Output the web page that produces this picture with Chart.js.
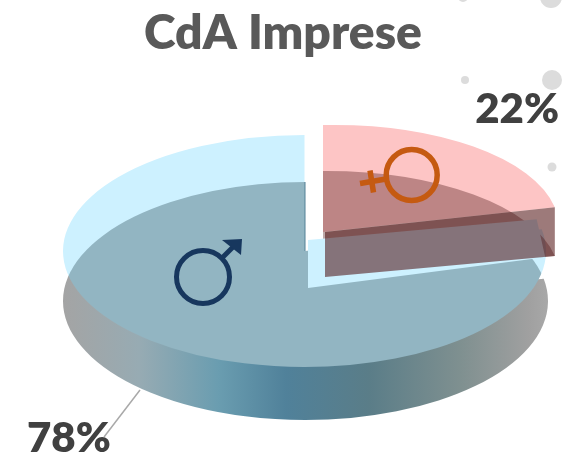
<!DOCTYPE html>
<html>
<head>
<meta charset="utf-8">
<style>html,body{margin:0;padding:0;background:#fff}canvas{display:block}</style>
<script src="https://cdn.jsdelivr.net/npm/chart.js@4/dist/chart.umd.min.js"></script>
</head>
<body>
<canvas id="c" width="566" height="452"></canvas>
<script>
const categories = ['Donne', 'Uomini'];
const shares = [22, 78];
const chartTitle = 'CdA Imprese';

// projections of the library's circular slices onto the tilted disc
const blueTop  = {x: 304.5, y: 251, rx: 241.5, ry: 116, shear: 0};
const blueBase = {x: 305.5, y: 301, rx: 242.5, ry: 119, shear: 0};
const pinkTop  = {x: 323,   y: 232, rx: 236,   ry: 107, shear: -0.02};
const pinkBase = {x: 323,   y: 277, rx: 236,   ry: 106, shear: -0.005};

function applyProj(ctx, arc, p) {
  const k = p.rx / arc.outerRadius, m = p.ry / arc.outerRadius;
  ctx.transform(k, p.shear * k, 0, m, p.x - k * arc.x, p.y - m * arc.y - p.shear * k * arc.x);
}
function project(arc, p, angle) {
  const dx = Math.cos(angle), dy = Math.sin(angle);
  return {x: p.x + p.rx * dx, y: p.y + p.ry * dy + p.shear * p.rx * dx};
}
function drawArc(ctx, arc, p, fill, op) {
  const saved = arc.options;
  arc.options = {offset: 0, spacing: 0, circular: true, borderAlign: 'center', borderWidth: 0,
    borderRadius: 0, borderColor: 'transparent', backgroundColor: fill};
  ctx.save();
  if (op) ctx.globalCompositeOperation = op;
  applyProj(ctx, arc, p);
  arc.draw(ctx);
  ctx.restore();
  arc.options = saved;
}
function poly(ctx, pts, fill) {
  ctx.beginPath();
  pts.forEach((q, i) => i ? ctx.lineTo(q.x, q.y) : ctx.moveTo(q.x, q.y));
  ctx.closePath();
  ctx.fillStyle = fill;
  ctx.fill();
}

const pie3d = {
  id: 'pie3d',
  beforeDatasetsDraw(chart) {
    const ctx = chart.ctx;
    const [pink, blue] = chart.getDatasetMeta(0).data;

    // blue slice: top face, the part seen through it, then the side below
    drawArc(ctx, blue, blueTop, '#cdf1ff');
    ctx.save();
    ctx.globalCompositeOperation = 'source-atop';
    applyProj(ctx, blue, blueBase);
    ctx.beginPath();
    ctx.arc(blue.x, blue.y, blue.outerRadius, 0, Math.PI * 2);
    ctx.fillStyle = '#92b5c2';
    ctx.fill();
    ctx.restore();

    const g = ctx.createLinearGradient(blue.x - blue.outerRadius, 0, blue.x + blue.outerRadius, 0);
    [[0, '#a4a4a4'], [.157, '#97abb3'], [.32, '#6a9db0'], [.46, '#50819a'],
     [.63, '#5a7d88'], [.82, '#7f9090'], [.96, '#a0a0a0'], [1, '#a8a8a8']]
      .forEach(s => g.addColorStop(s[0], s[1]));
    drawArc(ctx, blue, blueBase, g, 'destination-over');

    // pink slice
    drawArc(ctx, pink, pinkTop, '#fdc5c5');
    drawArc(ctx, pink, pinkBase, 'rgba(80,24,24,.37)');

    // inner cut face of the blue slice
    const bc = {x: blueTop.x, y: blueTop.y};
    const be = project(pink, blueTop, pink.endAngle);
    poly(ctx, [
      {x: bc.x + 3.5, y: bc.y - 11}, {x: be.x - 5, y: be.y - 10},
      {x: be.x + 3.5, y: be.y + 28}, {x: bc.x + 3.5, y: bc.y + 37}
    ], '#cdf1ff');

    // inner cut face of the pink slice
    const tc = {x: pinkTop.x + 2, y: pinkTop.y};
    const te = project(pink, pinkTop, pink.endAngle);
    const de = project(pink, pinkBase, pink.endAngle);
    const dc = {x: pinkBase.x + 2, y: pinkBase.y};
    poly(ctx, [tc, te, de, dc], 'rgba(69,3,3,.53)');
    return false;
  },
  afterDraw(chart) {
    const ctx = chart.ctx;
    ctx.save();
    // leader line
    ctx.strokeStyle = '#a9a9a9';
    ctx.lineWidth = 1.5;
    ctx.beginPath();
    ctx.moveTo(140, 390);
    ctx.lineTo(104, 437);
    ctx.stroke();

    // value labels
    ctx.font = '800 42px Lato, "Open Sans", sans-serif';
    ctx.fillStyle = '#404040';
    ctx.textBaseline = 'alphabetic';
    ctx.textAlign = 'right';
    ctx.fillText(shares[0] + '%', 559, 123);
    ctx.textAlign = 'left';
    ctx.fillText(shares[1] + '%', 27, 452);

    // backdrop dots
    ctx.fillStyle = '#dcdcdc';
    [[552, 80, 10], [465, 80, 4], [552, 167, 4.5], [551, -3, 11], [463, -3, 5]].forEach(d => {
      ctx.beginPath(); ctx.arc(d[0], d[1], d[2], 0, Math.PI * 2); ctx.fill();
    });

    // male symbol
    ctx.strokeStyle = ctx.fillStyle = '#17375e';
    ctx.lineWidth = 5;
    ctx.beginPath(); ctx.arc(203, 277, 26.5, 0, Math.PI * 2); ctx.stroke();
    ctx.beginPath(); ctx.moveTo(222, 258); ctx.lineTo(236, 244); ctx.stroke();
    ctx.beginPath(); ctx.moveTo(222, 240); ctx.lineTo(242, 239); ctx.lineTo(241, 255); ctx.closePath(); ctx.fill();

    // female symbol
    ctx.strokeStyle = '#c55a11';
    ctx.lineWidth = 5.5;
    ctx.beginPath(); ctx.arc(411.7, 175, 25.5, 0, Math.PI * 2); ctx.stroke();
    ctx.beginPath(); ctx.moveTo(386, 179); ctx.lineTo(360, 183.5); ctx.stroke();
    ctx.beginPath(); ctx.moveTo(370, 170.5); ctx.lineTo(373.5, 192.5); ctx.stroke();
    ctx.restore();
  }
};

new Chart(document.getElementById('c'), {
  type: 'pie',
  data: {
    labels: categories,
    datasets: [{data: shares, backgroundColor: ['#fdc5c5', '#cdf1ff'], borderWidth: 0}]
  },
  options: {
    responsive: false,
    animation: false,
    events: [],
    plugins: {
      legend: {display: false},
      tooltip: {enabled: false},
      title: {
        display: true,
        text: chartTitle,
        color: '#595959',
        font: {family: 'Lato, "Open Sans", sans-serif', size: 48, weight: '800'},
        padding: {top: 5, bottom: 2}
      }
    }
  },
  plugins: [pie3d]
});
</script>
</body>
</html>
